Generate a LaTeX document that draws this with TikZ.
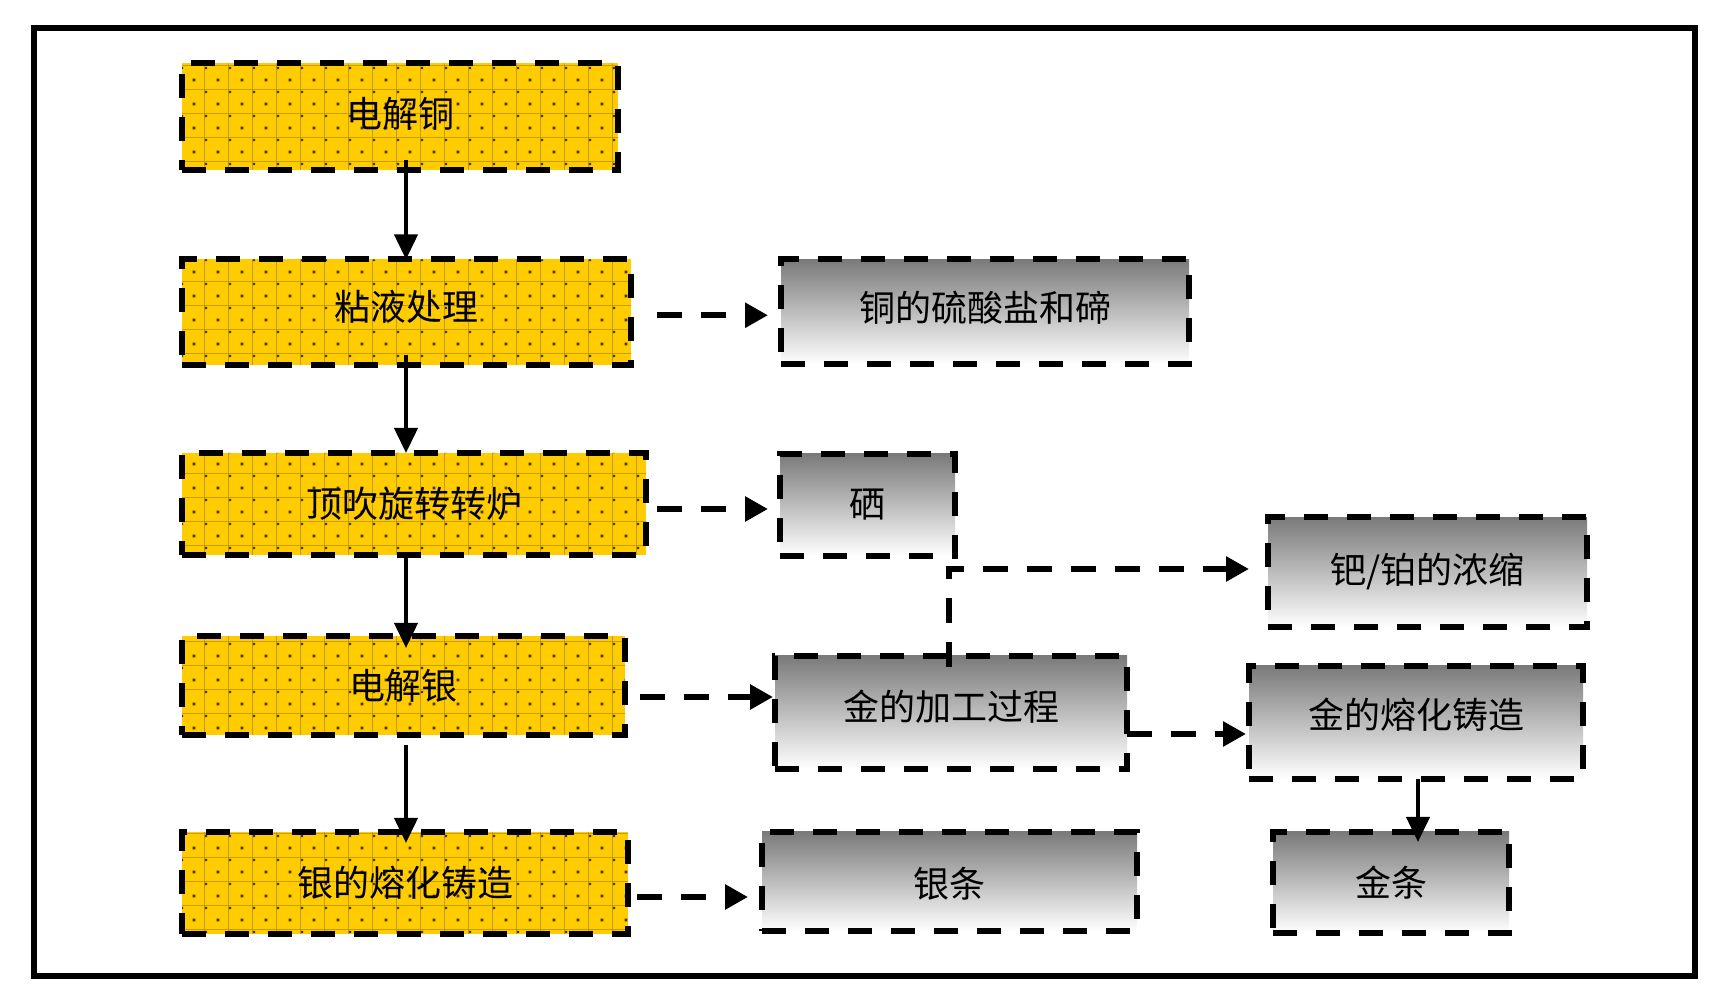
\documentclass[tikz,border=0pt]{standalone}
\usepackage{fontspec}
\newfontfamily\cjk{Noto Sans CJK SC}
\usetikzlibrary{arrows.meta,calc,backgrounds}
\definecolor{ybg}{RGB}{255,204,0}
\definecolor{ygrid}{RGB}{196,156,20}
\definecolor{ydot}{RGB}{70,55,0}
\definecolor{gtop}{RGB}{122,122,122}
\newcommand{\upby}[2]{\raisebox{#1}[\height][\depth]{#2}}
\begin{document}
\begin{tikzpicture}[x=0.5pt,y=-0.5pt,
  box/.style={rectangle, inner sep=0pt, outer sep=0pt, line width=3pt,
    dash pattern=on 12pt off 9.5pt, draw=black,
    font=\cjk\fontsize{18pt}{20pt}\selectfont, text=black},
  ybox/.style={box},
  gbox/.style={box, top color=gtop, bottom color=white},
  sarr/.style={line width=2pt, -{Triangle[length=12.5pt,width=11.5pt]}},
  darr/.style={line width=3pt, dash pattern=on 12.5pt off 9.5pt,
    -{Triangle[length=11.5pt,width=12pt]}},
  frame/.style={line width=3pt, draw=black}
]
\useasboundingbox (0,0) rectangle (1731,1004);
\draw[frame] (34,28) rectangle (1694.5,976);

% yellow boxes
\node[ybox, minimum width=218pt,   minimum height=53.25pt] (y1) at (400,116.75) {\upby{1.2pt}{电解铜}};
\node[ybox, minimum width=224.5pt, minimum height=52.75pt] (y2) at (406.5,312.25) {\upby{2.6pt}{粘液处理}};
\node[ybox, minimum width=232pt,   minimum height=51pt]    (y3) at (414,504) {顶吹旋转转炉};
\node[ybox, minimum width=221.5pt, minimum height=49.5pt]  (y4) at (403.5,685.5) {电解银};
\node[ybox, minimum width=223pt,   minimum height=51pt]    (y5) at (405,883) {银的熔化铸造};

% gray boxes
\node[gbox, minimum width=204pt,   minimum height=52.25pt] (g1) at (985,311.75) {\upby{2.2pt}{铜的硫酸盐和碲}};
\node[gbox, minimum width=87.5pt,  minimum height=51pt]    (g2) at (867.5,505) {硒};
\node[gbox, minimum width=159.5pt, minimum height=55pt]    (g3) at (1427.5,572.5) {\upby{0.6pt}{钯/铂的浓缩}};
\node[gbox, minimum width=176pt,   minimum height=56.5pt]  (g4) at (951,712.5) {\upby{2.8pt}{金的加工过程}};
\node[gbox, minimum width=167pt,   minimum height=56.5pt]  (g5) at (1416,722.5) {\upby{3.8pt}{金的熔化铸造}};
\node[gbox, minimum width=187.5pt, minimum height=49.5pt]  (g6) at (949.5,881.5) {\upby{-1pt}{银条}};
\node[gbox, minimum width=118pt,   minimum height=50.5pt]  (g7) at (1391,882.5) {金条};

% yellow patterned fill behind the yellow boxes
\begin{scope}[on background layer]
  \foreach \b in {y1,y2,y3,y4,y5} {\fill[ybg] (\b.north west) rectangle (\b.south east);}
  \clip (y1.north west) rectangle (y1.south east)
        (y2.north west) rectangle (y2.south east)
        (y3.north west) rectangle (y3.south east)
        (y4.north west) rectangle (y4.south east)
        (y5.north west) rectangle (y5.south east);
  \draw[ygrid, line width=0.5pt] \foreach \gx in {180,204,...,660} {(\gx,40) -- (\gx,960)};
  \draw[ygrid, line width=0.5pt] \foreach \gy in {42,66,...,954} {(170,\gy) -- (670,\gy)};
  \fill[ydot] \foreach \gx in {170,194,...,650} {\foreach \gy in {56,80,...,944} {(\gx-1.4,\gy-1.4) rectangle ++(2.8,2.8)}};
  \fill[ydot] \foreach \gx in {182,206,...,662} {\foreach \gy in {44,68,...,956} {(\gx-1.1,\gy-1.1) rectangle ++(2.2,2.2)}};
\end{scope}

% solid arrows
\coordinate (colx) at (406,0);
\draw[sarr] ([yshift=5pt]colx |- y1.south) -- (colx |- y2.north);
\draw[sarr] ([yshift=5pt]colx |- y2.south) -- (colx |- y3.north);
\draw[sarr] ([yshift=1.5pt]colx |- y3.south) -- ([yshift=-6pt]colx |- y4.north);
\draw[sarr] ([yshift=-5pt]colx |- y4.south) -- ([yshift=-5.5pt]colx |- y5.north);
\draw[sarr] ([xshift=1pt]g5.south) -- ([xshift=1pt,yshift=-5pt]g5.south |- g7.north);

% dashed arrows
\draw[darr] ([xshift=13pt,yshift=-1.5pt]y2.east) coordinate (d1) -- ([xshift=-6.5pt]g1.west |- d1);
\draw[darr] ([xshift=5.5pt,yshift=-2.5pt]y3.east) coordinate (d2) -- ([xshift=-6pt]g2.west |- d2);
\draw[darr] ([xshift=7.5pt,yshift=-5.75pt]y4.east) coordinate (d3) -- ([xshift=-1pt]g4.west |- d3);
\draw[darr] ([xshift=4.5pt,yshift=-7pt]y5.east) coordinate (d4) -- ([xshift=-7pt]g6.west |- d4);
\draw[darr] ([yshift=-10.75pt]g4.east) coordinate (d5) -- ([xshift=-1.5pt]g5.west |- d5);
\draw[darr] ([xshift=-1pt,yshift=-5.5pt]g4.north) |- ([xshift=-9.5pt,yshift=1.75pt]g3.west);
\end{tikzpicture}
\end{document}
